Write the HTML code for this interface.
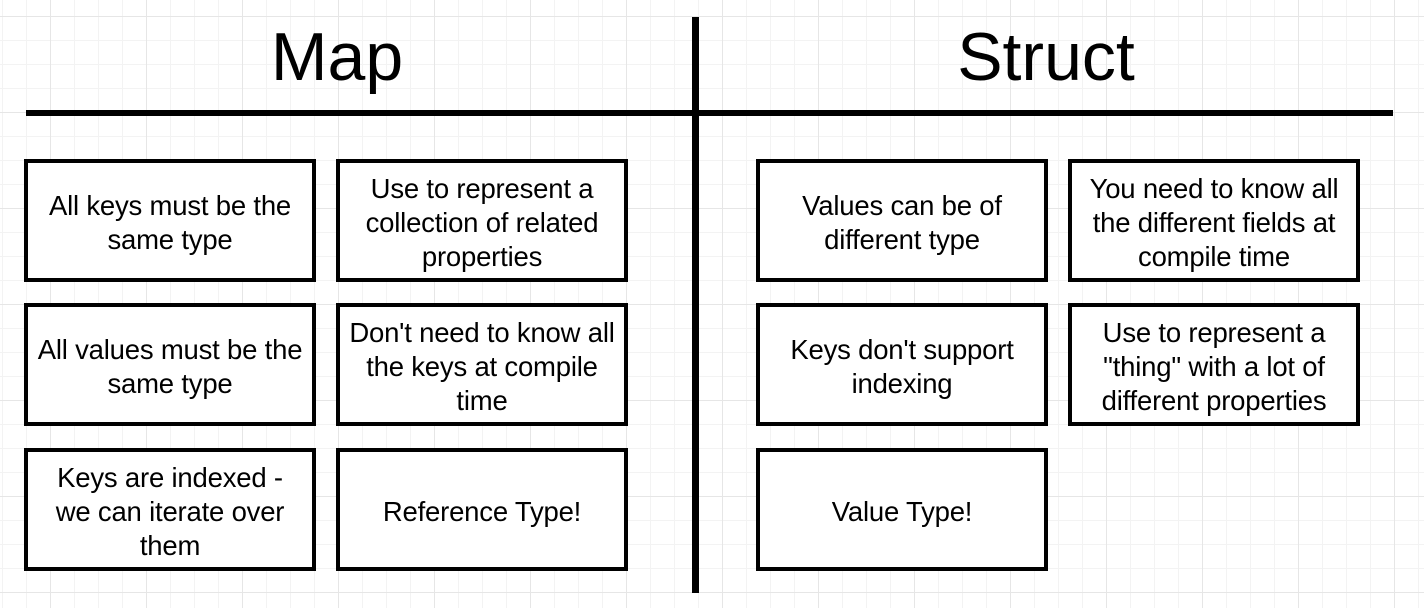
<!DOCTYPE html>
<html><head><meta charset="utf-8"><style>
html,body{margin:0;padding:0}
body{width:1424px;height:608px;position:relative;overflow:hidden;background:#fff;
background-image:
linear-gradient(#e6e6e6 1px,transparent 1px),
linear-gradient(90deg,#e6e6e6 1px,transparent 1px),
linear-gradient(#f3f3f3 1px,transparent 1px),
linear-gradient(90deg,#f3f3f3 1px,transparent 1px);
background-size:96px 96px,96px 96px,24px 24px,24px 24px;
background-position:0 16px,50px 0,0 16px,2px 0;
font-family:"Liberation Sans",Arial,sans-serif;}
.t{position:absolute;top:12px;font-size:68px;line-height:90px;text-align:center;color:#000}
.b{position:absolute;box-sizing:border-box;width:292px;height:123px;border:4px solid #000;background:#fff;
display:flex;align-items:center;justify-content:center;text-align:center;font-size:27.5px;line-height:34px;color:#000;white-space:nowrap;padding-top:5px;letter-spacing:-0.2px}
.h{position:absolute;left:26px;top:110px;width:1367px;height:6px;background:#000}
.v{position:absolute;left:692px;top:17px;width:7px;height:576px;background:#000}
</style></head><body>
<div class="t" style="left:187px;width:300px">Map</div>
<div class="t" style="left:896px;width:300px">Struct</div>
<div class="h"></div>
<div class="v"></div>
<div class="b" style="left:24px;top:159px">All keys must be the<br>same type</div>
<div class="b" style="left:336px;top:159px">Use to represent a<br>collection of related<br>properties</div>
<div class="b" style="left:24px;top:303px">All values must be the<br>same type</div>
<div class="b" style="left:336px;top:303px">Don't need to know all<br>the keys at compile<br>time</div>
<div class="b" style="left:24px;top:448px">Keys are indexed -<br>we can iterate over<br>them</div>
<div class="b" style="left:336px;top:448px">Reference Type!</div>
<div class="b" style="left:756px;top:159px">Values can be of<br>different type</div>
<div class="b" style="left:1068px;top:159px">You need to know all<br>the different fields at<br>compile time</div>
<div class="b" style="left:756px;top:303px">Keys don't support<br>indexing</div>
<div class="b" style="left:1068px;top:303px">Use to represent a<br>"thing" with a lot of<br>different properties</div>
<div class="b" style="left:756px;top:448px">Value Type!</div>
</body></html>
